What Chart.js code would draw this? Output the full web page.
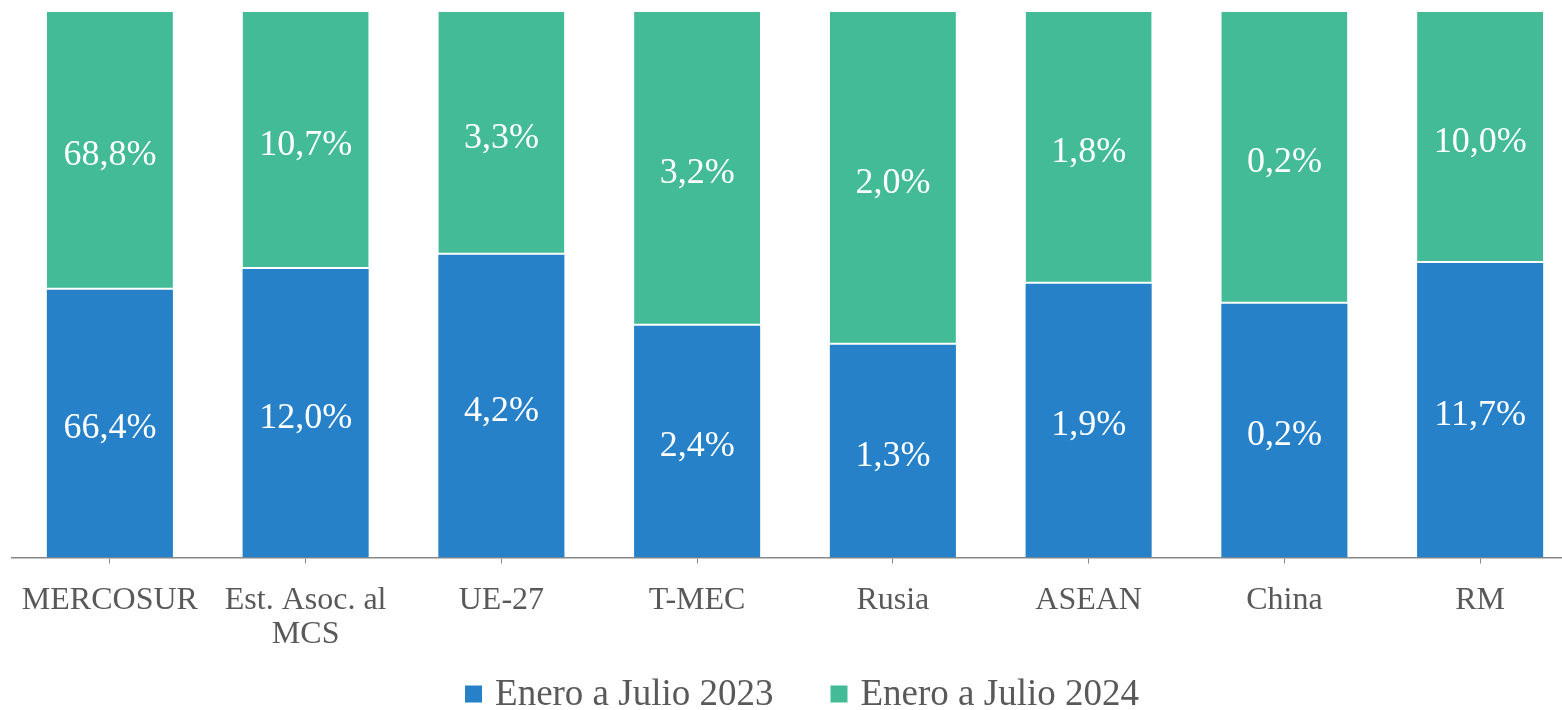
<!DOCTYPE html>
<html lang="es">
<head>
<meta charset="UTF-8">
<title>Enero a Julio 2023 vs 2024</title>
<script src="https://cdn.jsdelivr.net/npm/chart.js"></script>
<style>
  body{margin:0;background:#fff;overflow:hidden}
  .wrap{width:1578px;height:710px;position:relative}
</style>
</head>
<body>
<div class="wrap"><canvas id="chart"></canvas></div>
<script>
const categories = ['MERCOSUR', ['Est. Asoc. al', 'MCS'], 'UE-27', 'T-MEC', 'Rusia', 'ASEAN', 'China', 'RM'];
// bar share (% of the stacked column)
const share2023 = [49.1, 52.9, 55.5, 42.5, 39.0, 50.2, 46.5, 54.0];
const share2024 = [50.9, 47.1, 44.5, 57.5, 61.0, 49.8, 53.5, 46.0];
// labels printed in each segment
const label2023 = ['66,4%', '12,0%', '4,2%', '2,4%', '1,3%', '1,9%', '0,2%', '11,7%'];
const label2024 = ['68,8%', '10,7%', '3,3%', '3,2%', '2,0%', '1,8%', '0,2%', '10,0%'];

const serif = "'Liberation Serif','Times New Roman',serif";

const segLabels = {
  id: 'segLabels',
  afterDatasetsDraw(chart) {
    const ctx = chart.ctx;
    const texts = [label2023, label2024];
    ctx.save();
    ctx.fillStyle = '#fff';
    ctx.font = '36px ' + serif;
    ctx.textAlign = 'center';
    ctx.textBaseline = 'middle';
    chart.data.datasets.forEach((ds, i) => {
      chart.getDatasetMeta(i).data.forEach((el, j) => {
        ctx.fillText(texts[i][j], el.x, (el.y + el.base) / 2 + 5);
      });
    });
    ctx.restore();
  }
};

// legend drawn by hand so box/text gaps match the original
const bottomLegend = {
  id: 'bottomLegend',
  afterDraw(chart) {
    const ctx = chart.ctx;
    const box = 17, gap = 13, between = 57;
    const y = chart.height - 16;
    ctx.save();
    ctx.font = '37px ' + serif;
    ctx.textBaseline = 'middle';
    const items = chart.data.datasets.map(ds => ({text: ds.label, color: ds.backgroundColor, w: ctx.measureText(ds.label).width}));
    const total = items.reduce((s, it) => s + box + gap + it.w, 0) + between * (items.length - 1);
    let x = (chart.chartArea.left + chart.chartArea.right) / 2 + 7 - total / 2;
    items.forEach(it => {
      ctx.fillStyle = it.color;
      ctx.fillRect(x, y - box / 2, box, box);
      x += box + gap;
      ctx.fillStyle = '#595959';
      ctx.fillText(it.text, x, y + 1);
      x += it.w + between;
    });
    ctx.restore();
  }
};

new Chart(document.getElementById('chart'), {
  type: 'bar',
  data: {
    labels: categories,
    datasets: [
      {label: 'Enero a Julio 2023', data: share2023, backgroundColor: '#2681C8', borderWidth: 0,
       barPercentage: 0.644, categoryPercentage: 1},
      {label: 'Enero a Julio 2024', data: share2024, backgroundColor: '#43BB96',
       borderColor: '#fff', borderWidth: {top: 0, bottom: 2, left: 0, right: 0}, borderSkipped: false,
       barPercentage: 0.644, categoryPercentage: 1}
    ]
  },
  options: {
    responsive: true,
    maintainAspectRatio: false,
    animation: false,
    layout: {padding: {left: 12, top: 12, right: 0, bottom: 38}},
    plugins: {
      tooltip: {enabled: false},
      legend: {display: false}
    },
    scales: {
      x: {
        stacked: true,
        grid: {display: true, drawOnChartArea: false, drawTicks: true, tickLength: 6, offset: false, color: '#888'},
        border: {display: true, color: '#888', width: 1.5},
        ticks: {color: '#595959', font: {family: serif, size: 32, lineHeight: 1.07}, maxRotation: 0, autoSkip: false, padding: 20}
      },
      y: {
        stacked: true, display: false, min: 0, max: 100
      }
    }
  },
  plugins: [segLabels, bottomLegend]
});
</script>
</body>
</html>
